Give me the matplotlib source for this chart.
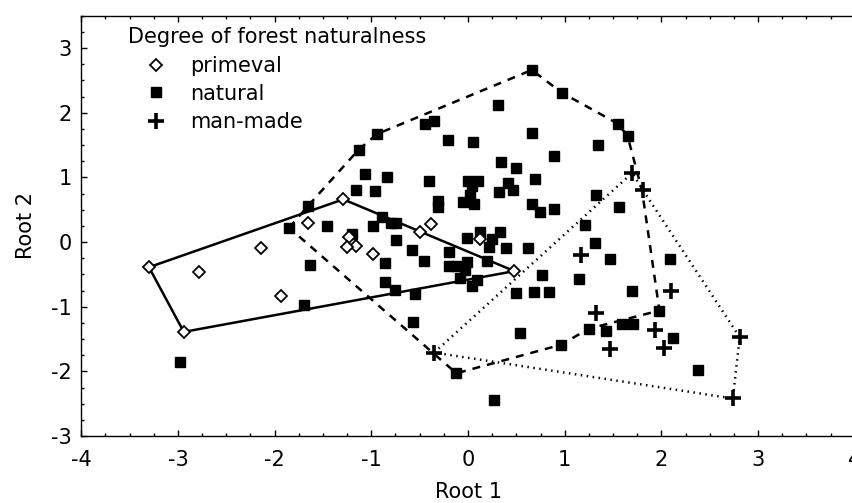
import matplotlib
matplotlib.use("Agg")
import matplotlib.pyplot as plt
from matplotlib.ticker import MultipleLocator

plt.rcParams['font.family'] = ['DejaVu Sans']
plt.rcParams['axes.unicode_minus'] = False

# ---- data ----
primeval_x = [-3.30, -2.78, -2.14, -1.93, -2.94, -1.29, -1.66, -1.23, -1.16, -1.25,
              -0.98, -0.50, -0.38, 0.12, 0.48]
primeval_y = [-0.39, -0.46, -0.09, -0.83, -1.39, 0.66, 0.30, 0.07, -0.06, -0.08,
              -0.19, 0.16, 0.28, 0.05, -0.45]

natural_x = [0.66, 0.97, 0.31, 0.66, 0.89, -0.44, -0.35, -0.94, -1.13, -0.21,
             0.05, 0.34, 0.50, 0.69, -1.07, -0.84, -0.40, 0.00, 0.10, 0.04,
             -1.16, -0.96, 0.41, 0.32, 0.47, -0.31, -0.31, -0.05, 0.02, 0.06,
             0.66, 0.74, 0.89, 0.12, 0.33, -0.01, 0.25, 0.22, 0.39, 0.62,
             -0.20, -0.45, -0.20, -0.12, -0.01, 0.20, -0.03, -0.08, 0.09, 0.04,
             0.77, 0.50, 0.68, 0.84, 0.54, 0.96, -0.12, 0.27,
             -1.66, -1.85, -1.46, -0.89, -0.80, -0.74, -0.98, -1.20, -0.74, -0.58,
             -0.86, -1.63, -0.86, -0.75, -0.55, -1.70, -0.57, 1.15,
             1.31, 1.47, 2.09, 1.70, 1.98, 1.59, 1.71, 1.25, 1.43, 2.12, 2.38,
             1.55, 1.65, 1.34, 1.32, 1.56, 1.21, -2.98]
natural_y = [2.66, 2.31, 2.12, 1.69, 1.33, 1.82, 1.87, 1.67, 1.43, 1.57,
             1.54, 1.24, 1.14, 0.98, 1.05, 1.00, 0.95, 0.95, 0.95, 0.87,
             0.81, 0.79, 0.92, 0.77, 0.81, 0.64, 0.54, 0.62, 0.73, 0.59,
             0.59, 0.47, 0.51, 0.16, 0.16, 0.06, 0.05, -0.08, -0.10, -0.10,
             -0.16, -0.30, -0.37, -0.37, -0.31, -0.30, -0.44, -0.56, -0.59, -0.68,
             -0.51, -0.79, -0.77, -0.77, -1.40, -1.59, -2.03, -2.44,
             0.55, 0.22, 0.24, 0.38, 0.30, 0.30, 0.24, 0.13, 0.03, -0.12,
             -0.33, -0.36, -0.62, -0.74, -0.80, -0.98, -1.23, -0.57,
             -0.02, -0.26, -0.26, -0.76, -1.06, -1.27, -1.27, -1.34, -1.38, -1.49, -1.98,
             1.83, 1.64, 1.50, 0.73, 0.54, 0.27, -1.86]

manmade_x = [-0.35, 1.70, 1.81, 1.17, 2.10, 1.32, 1.93, 1.47, 2.03, 2.81, 2.74]
manmade_y = [-1.71, 1.07, 0.80, -0.20, -0.75, -1.10, -1.36, -1.65, -1.64, -1.47, -2.42]

# polygon outlines (vertices)
primeval_hull_x = [-3.30, -1.29, 0.48, -2.94]
primeval_hull_y = [-0.39, 0.66, -0.45, -1.39]
natural_hull_x = [-1.85, -1.66, -1.13, -0.94, 0.66, 0.97, 1.55, 1.65, 1.80, 1.98, 1.25, 0.96, -0.12]
natural_hull_y = [0.22, 0.55, 1.43, 1.67, 2.66, 2.31, 1.83, 1.64, 0.80, -1.06, -1.34, -1.59, -2.03]
manmade_hull_x = [-0.35, 1.70, 1.81, 2.81, 2.74]
manmade_hull_y = [-1.71, 1.07, 0.80, -1.47, -2.42]

legend_title = "Degree of forest naturalness"
labels = ["primeval", "natural", "man-made"]

# ---- figure ----
W, H = 852, 503
AX_L, AX_R, AX_T, AX_B = 81.3, 854.7, 15.7, 436.0
fig = plt.figure(figsize=(W / 100, H / 100), dpi=100)
ax = fig.add_axes([AX_L / W, (H - AX_B) / H, (AX_R - AX_L) / W, (AX_B - AX_T) / H])

def fx(px):
    return (px - AX_L) / (AX_R - AX_L)

def fy(py):
    return (AX_B - py) / (AX_B - AX_T)

def closed(xs, ys):
    return list(xs) + [xs[0]], list(ys) + [ys[0]]

px_, py_ = closed(primeval_hull_x, primeval_hull_y)
ax.plot(px_, py_, '-', color='black', lw=1.8, zorder=2)
nx, ny = closed(natural_hull_x, natural_hull_y)
ax.plot(nx, ny, color='black', lw=1.8, dashes=(3.2, 2.8), zorder=2)
mx, my = closed(manmade_hull_x, manmade_hull_y)
ax.plot(mx, my, color='black', lw=1.8, dashes=(0.6, 1.8), zorder=2)

sq_style = dict(marker='s', ms=7.8, mfc='black', mec='black', ls='none')
di_style = dict(marker='D', ms=6.3, mfc='white', mec='black', mew=1.3, ls='none')
pl_style = dict(marker='+', ms=11, mec='black', mew=2.6, ls='none')

ax.plot(natural_x, natural_y, zorder=3, **sq_style)
ax.plot(primeval_x, primeval_y, zorder=4, **di_style)
ax.plot(manmade_x, manmade_y, zorder=5, **pl_style)

ax.set_xlim(-4, 4)
ax.set_ylim(-3, 3.5)
ax.xaxis.set_major_locator(MultipleLocator(1))
ax.xaxis.set_minor_locator(MultipleLocator(0.25))
ax.yaxis.set_minor_locator(MultipleLocator(0.25))
ax.set_yticks([-3, -2, -1, 0, 1, 2, 3])
ax.tick_params(which='both', direction='in', top=True, right=False, labelsize=15, width=1)
ax.tick_params(axis='x', which='major', length=4, pad=10)
ax.tick_params(axis='y', which='major', length=4, pad=7)
ax.tick_params(which='minor', length=2.5)
for s in ax.spines.values():
    s.set_linewidth(1.0)

ax.set_xlabel("Root 1", fontsize=15, labelpad=9)
ax.set_ylabel("Root 2", fontsize=15, labelpad=11)

# legend (drawn in axes coordinates)
ax.text(fx(128), fy(43.3), legend_title, fontsize=15, ha='left', va='baseline',
        transform=ax.transAxes)
marker_y = [65, 92, 121]
text_base = [71.7, 100.0, 127.7]
for st, lab, my_, tb in zip([di_style, sq_style, pl_style], labels, marker_y, text_base):
    ax.plot([fx(155.5)], [fy(my_)], transform=ax.transAxes, clip_on=False, **st)
    ax.text(fx(190), fy(tb), lab, fontsize=15, ha='left', va='baseline',
            transform=ax.transAxes)

fig.savefig("out.png", dpi=100, facecolor='white')
